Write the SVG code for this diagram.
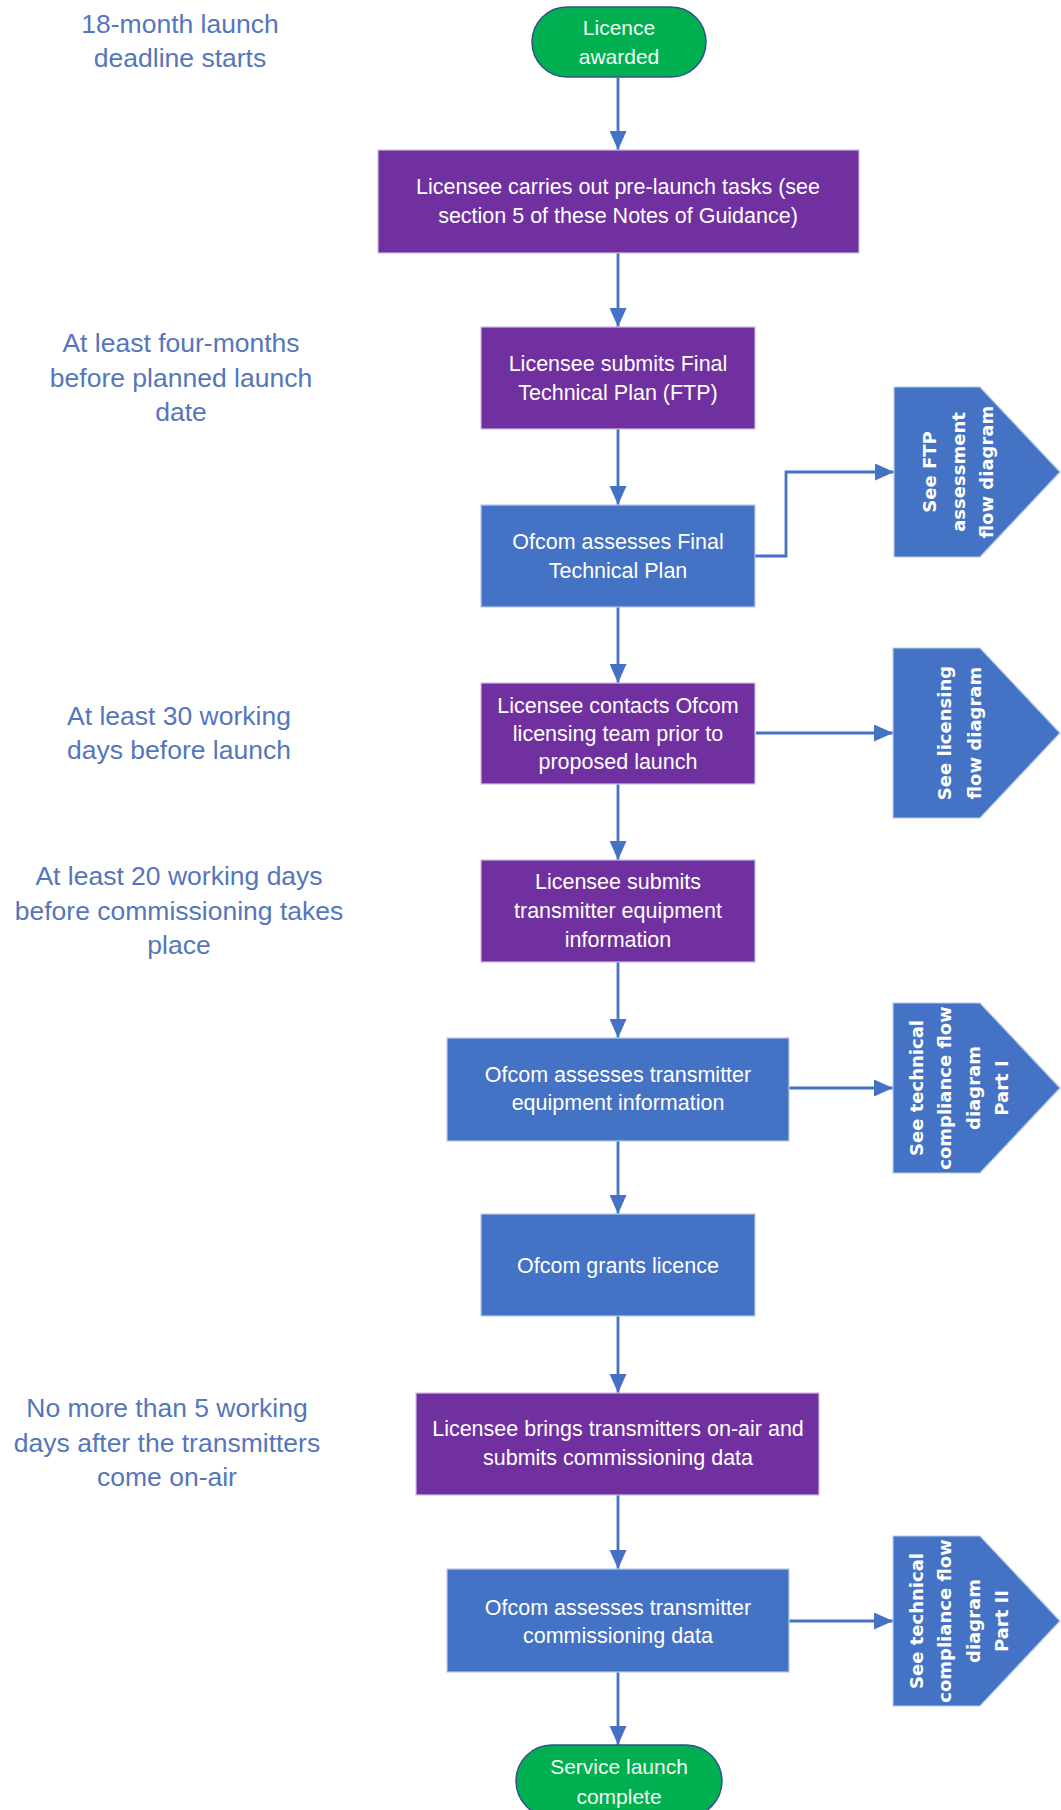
<svg xmlns="http://www.w3.org/2000/svg" width="1061" height="1810" viewBox="0 0 1061 1810">
  <style>
    .bt { font-family: "Liberation Sans", Arial, sans-serif; font-size: 21.5px; fill: #ffffff; text-anchor: middle; }
    .tt { font-family: "Liberation Sans", Arial, sans-serif; font-size: 21px; fill: #f4fbf2; text-anchor: middle; }
    .lt { font-family: "Liberation Sans", Arial, sans-serif; font-size: 26.5px; fill: #5576bb; text-anchor: middle; }
    .pt { font-family: "DejaVu Sans", Verdana, sans-serif; font-size: 18px; font-weight: bold; fill: #ffffff; text-anchor: middle; }
    .purple { fill: #7030A0; stroke: #cdbfe3; stroke-width: 1.2; }
    .blue { fill: #4472C4; stroke: #b9cbe9; stroke-width: 1.2; }
    .term { fill: #00B050; stroke: #2F528F; stroke-width: 1.5; }
    .conn { fill: none; stroke: #4472C4; stroke-width: 2.8; marker-end: url(#arrow); }
  </style>
  <defs>
    <marker id="arrow" markerUnits="userSpaceOnUse" markerWidth="19" markerHeight="17" refX="19" refY="8.5" orient="auto">
      <path d="M0,0 L19,8.5 L0,17 z" fill="#4472C4"/>
    </marker>
  </defs>

  <rect width="1061" height="1810" fill="#ffffff"/>

  <!-- timing notes -->
  <g id="note-18month">
    <text class="lt" x="180" y="33">18-month launch</text>
    <text class="lt" x="180" y="67">deadline starts</text>
  </g>
  <g id="note-fourmonths">
    <text class="lt" x="181" y="352">At least four-months</text>
    <text class="lt" x="181" y="387">before planned launch</text>
    <text class="lt" x="181" y="421">date</text>
  </g>
  <g id="note-30days">
    <text class="lt" x="179" y="725">At least 30 working</text>
    <text class="lt" x="179" y="759">days before launch</text>
  </g>
  <g id="note-20days">
    <text class="lt" x="179" y="885">At least 20 working days</text>
    <text class="lt" x="179" y="920">before commissioning takes</text>
    <text class="lt" x="179" y="954">place</text>
  </g>
  <g id="note-5days">
    <text class="lt" x="167" y="1417">No more than 5 working</text>
    <text class="lt" x="167" y="1452">days after the transmitters</text>
    <text class="lt" x="167" y="1486">come on-air</text>
  </g>

  <!-- connectors -->
  <g id="connectors">
    <line class="conn" x1="618" y1="78" x2="618" y2="150"/>
    <line class="conn" x1="618" y1="253" x2="618" y2="327"/>
    <line class="conn" x1="618" y1="429" x2="618" y2="505"/>
    <polyline class="conn" points="755,556 786,556 786,472 894,472"/>
    <line class="conn" x1="618" y1="607" x2="618" y2="683"/>
    <line class="conn" x1="756" y1="733" x2="893" y2="733"/>
    <line class="conn" x1="618" y1="784" x2="618" y2="860"/>
    <line class="conn" x1="618" y1="962" x2="618" y2="1038"/>
    <line class="conn" x1="789" y1="1088" x2="893" y2="1088"/>
    <line class="conn" x1="618" y1="1141" x2="618" y2="1214"/>
    <line class="conn" x1="618" y1="1316" x2="618" y2="1393"/>
    <line class="conn" x1="618" y1="1495" x2="618" y2="1569"/>
    <line class="conn" x1="789" y1="1621" x2="893" y2="1621"/>
    <line class="conn" x1="618" y1="1672" x2="618" y2="1745"/>
  </g>

  <!-- nodes -->
  <g id="licence-awarded">
    <rect class="term" x="532" y="7" width="174" height="70" rx="35" ry="35"/>
    <text class="tt" x="619" y="35">Licence</text>
    <text class="tt" x="619" y="64">awarded</text>
  </g>

  <g id="pre-launch-tasks">
    <rect class="purple" x="378" y="150" width="481" height="103"/>
    <text class="bt" x="618" y="194">Licensee carries out pre-launch tasks (see</text>
    <text class="bt" x="618" y="223">section 5 of these Notes of Guidance)</text>
  </g>

  <g id="submit-ftp">
    <rect class="purple" x="481" y="327" width="274" height="102"/>
    <text class="bt" x="618" y="371">Licensee submits Final</text>
    <text class="bt" x="618" y="400">Technical Plan (FTP)</text>
  </g>

  <g id="assess-ftp">
    <rect class="blue" x="481" y="505" width="274" height="102"/>
    <text class="bt" x="618" y="549">Ofcom assesses Final</text>
    <text class="bt" x="618" y="578">Technical Plan</text>
  </g>

  <g id="ref-ftp">
    <polygon class="blue" points="894,387 980,387 1060,472 980,557 894,557"/>
    <g transform="translate(958,472) rotate(-90)">
      <text class="pt" x="0" y="-22">See FTP</text>
      <text class="pt" x="0" y="6.5">assessment</text>
      <text class="pt" x="0" y="35">flow diagram</text>
    </g>
  </g>

  <g id="contact-licensing">
    <rect class="purple" x="481" y="683" width="274" height="101"/>
    <text class="bt" x="618" y="713">Licensee contacts Ofcom</text>
    <text class="bt" x="618" y="741">licensing team prior to</text>
    <text class="bt" x="618" y="769">proposed launch</text>
  </g>

  <g id="ref-licensing">
    <polygon class="blue" points="893,648 980,648 1060,733 980,818 893,818"/>
    <g transform="translate(959,733) rotate(-90)">
      <text class="pt" x="0" y="-8.5">See licensing</text>
      <text class="pt" x="0" y="21.5">flow diagram</text>
    </g>
  </g>

  <g id="submit-equipment">
    <rect class="purple" x="481" y="860" width="274" height="102"/>
    <text class="bt" x="618" y="889">Licensee submits</text>
    <text class="bt" x="618" y="918">transmitter equipment</text>
    <text class="bt" x="618" y="947">information</text>
  </g>

  <g id="assess-equipment">
    <rect class="blue" x="447" y="1038" width="342" height="103"/>
    <text class="bt" x="618" y="1082">Ofcom assesses transmitter</text>
    <text class="bt" x="618" y="1110">equipment information</text>
  </g>

  <g id="ref-compliance-1">
    <polygon class="blue" points="893,1003 980,1003 1060,1088 980,1173 893,1173"/>
    <g transform="translate(959,1088) rotate(-90)">
      <text class="pt" x="0" y="-36.25">See technical</text>
      <text class="pt" x="0" y="-7.75">compliance flow</text>
      <text class="pt" x="0" y="20.75">diagram</text>
      <text class="pt" x="0" y="49.25">Part I</text>
    </g>
  </g>

  <g id="grant-licence">
    <rect class="blue" x="481" y="1214" width="274" height="102"/>
    <text class="bt" x="618" y="1273">Ofcom grants licence</text>
  </g>

  <g id="on-air">
    <rect class="purple" x="416" y="1393" width="403" height="102"/>
    <text class="bt" x="618" y="1436">Licensee brings transmitters on-air and</text>
    <text class="bt" x="618" y="1465">submits commissioning data</text>
  </g>

  <g id="assess-commissioning">
    <rect class="blue" x="447" y="1569" width="342" height="103"/>
    <text class="bt" x="618" y="1615">Ofcom assesses transmitter</text>
    <text class="bt" x="618" y="1643">commissioning data</text>
  </g>

  <g id="ref-compliance-2">
    <polygon class="blue" points="893,1536 980,1536 1060,1621 980,1706 893,1706"/>
    <g transform="translate(959,1621) rotate(-90)">
      <text class="pt" x="0" y="-36.25">See technical</text>
      <text class="pt" x="0" y="-7.75">compliance flow</text>
      <text class="pt" x="0" y="20.75">diagram</text>
      <text class="pt" x="0" y="49.25">Part II</text>
    </g>
  </g>

  <g id="service-launch">
    <rect class="term" x="516" y="1745" width="206" height="72" rx="36" ry="36"/>
    <text class="tt" x="619" y="1774">Service launch</text>
    <text class="tt" x="619" y="1804">complete</text>
  </g>
</svg>
